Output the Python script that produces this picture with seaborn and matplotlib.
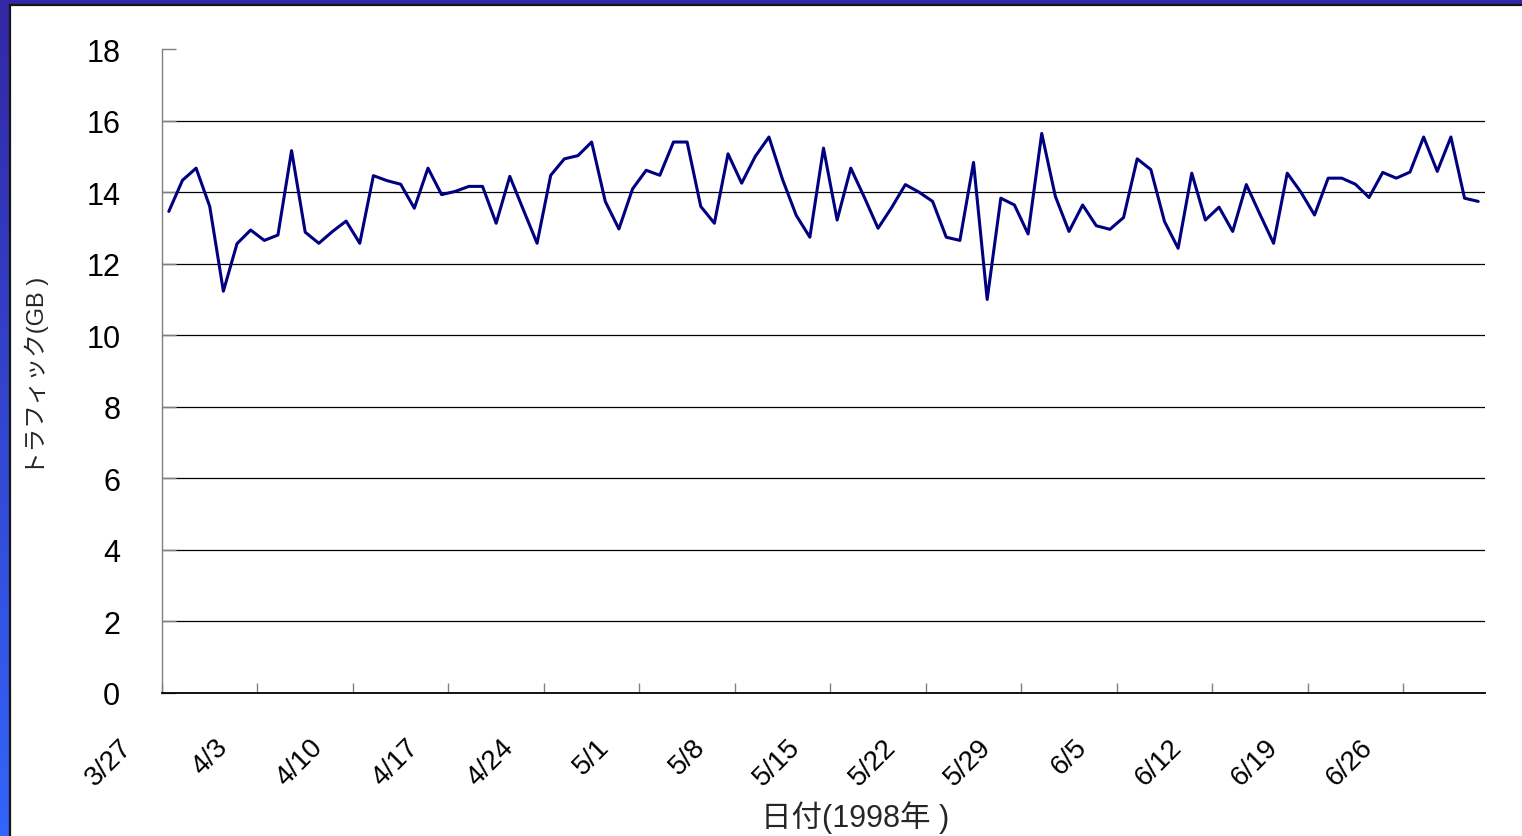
import numpy as np
import pandas as pd
import matplotlib
matplotlib.use('Agg')
import matplotlib.pyplot as plt
import matplotlib.transforms as mtransforms
from matplotlib.patches import Rectangle
from matplotlib.colors import LinearSegmentedColormap
import seaborn as sns

# daily traffic (GB), one value per day from 3/27/1998
start_date = '1998-03-27'
traffic_gb = [
    13.46, 14.33, 14.67, 13.60, 11.23, 12.56, 12.94, 12.65, 12.80, 15.16,
    12.88, 12.57, 12.90, 13.19, 12.57, 14.46, 14.32, 14.22, 13.55, 14.67,
    13.93, 14.02, 14.16, 14.16, 13.13, 14.44, 13.50, 12.57, 14.47, 14.93,
    15.02, 15.40, 13.74, 12.97, 14.09, 14.61, 14.47, 15.40, 15.40, 13.60,
    13.13, 15.07, 14.25, 15.00, 15.54, 14.35, 13.35, 12.74, 15.23, 13.22,
    14.67, 13.85, 12.99, 13.57, 14.21, 14.00, 13.74, 12.74, 12.65, 14.83,
    11.00, 13.83, 13.64, 12.83, 15.64, 13.88, 12.90, 13.64, 13.06, 12.96,
    13.29, 14.93, 14.63, 13.18, 12.43, 14.53, 13.22, 13.58, 12.90, 14.21,
    13.38, 12.57, 14.53, 14.00, 13.36, 14.39, 14.39, 14.22, 13.85, 14.55,
    14.39, 14.56, 15.54, 14.58, 15.54, 13.83, 13.74,
]
tick_dates = pd.date_range(start_date, periods=14, freq='7D')
tick_labels = [f'{d.month}/{d.day}' for d in tick_dates]
y_ticks = list(range(0, 19, 2))

days = pd.date_range(start_date, periods=len(traffic_gb), freq='D')
# points sit in the middle of each day (Excel "between categories")
df = pd.DataFrame({'date': days + pd.Timedelta(hours=12), 'traffic': traffic_gb})

sns.set_theme(style='white')
plt.rcParams['font.family'] = ['Liberation Sans', 'Noto Sans CJK JP', 'DejaVu Sans']

W, H = 1522, 837
fig = plt.figure(figsize=(W / 100, H / 100), dpi=100)

# slide frame: blue gradient with white panel
bg = fig.add_axes([0, 0, 1, 1], zorder=-10)
grad = np.linspace(0, 1, 256).reshape(-1, 1)
cmap = LinearSegmentedColormap.from_list('slide', ['#3227a4', '#3364fb'])
bg.imshow(grad, aspect='auto', cmap=cmap, extent=[0, 1, 0, 1], origin='upper')
bg.add_patch(Rectangle((9.5 / W, -0.02), 1.05, 1 - 5.5 / H + 0.02,
                       facecolor='white', edgecolor='#151515', lw=1.6))
bg.set_xlim(0, 1)
bg.set_ylim(0, 1)
bg.axis('off')

ax = fig.add_axes([162 / W, 1 - 694 / H, (1485 - 162) / W, (694 - 50) / H])
ax.set_facecolor('none')
sns.lineplot(data=df, x='date', y='traffic', ax=ax, color='#000080', lw=2.2, zorder=3)

ax.set_xlim(pd.Timestamp(start_date), days[-1] + pd.Timedelta(days=1))
ax.set_ylim(0, 18)
ax.set_yticks(y_ticks)
ax.set_yticklabels([str(v) for v in y_ticks], fontsize=22, color='black')
ax.set_xticks(tick_dates)
ax.set_xticklabels(tick_labels, fontsize=20, color='black', rotation=45,
                   ha='right', va='center', rotation_mode='anchor')

ax.tick_params(axis='y', direction='in', length=10, width=1, color='#808080', pad=30, left=True)
ax.tick_params(axis='x', direction='in', length=7, width=1, color='#808080', pad=0, bottom=True)

offset = mtransforms.ScaledTranslation(-0.34, -0.50, fig.dpi_scale_trans)
for lab in ax.get_xticklabels():
    lab.set_transform(lab.get_transform() + offset)

ax.grid(False)
ax.yaxis.grid(True, color='black', lw=0.9)
ax.get_ygridlines()[-1].set_visible(False)
ax.get_ygridlines()[0].set_visible(False)

for side in ['top', 'right']:
    ax.spines[side].set_visible(False)
ax.spines['left'].set_color('#808080')
ax.spines['left'].set_linewidth(1.0)
ax.spines['bottom'].set_color('black')
ax.spines['bottom'].set_linewidth(1.3)

ax.set_xlabel('日付(1998年 )', fontsize=22)
ax.xaxis.set_label_coords((855 - 162) / (1485 - 162), -(818 - 694) / (694 - 50))
ax.xaxis.label.set_va('center')
ax.set_ylabel('トラフィック(GB )', fontsize=17)
ax.yaxis.set_label_coords(-(162 - 37) / (1485 - 162), (694 - 376) / (694 - 50))
ax.yaxis.label.set_va('center')

fig.savefig('out.png', dpi=100)
